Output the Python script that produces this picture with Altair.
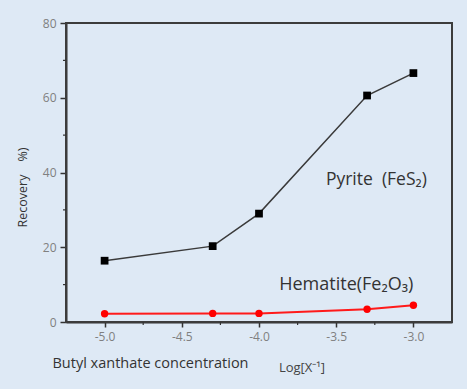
import altair as alt
import pandas as pd

log_x = [-5.0, -4.3, -4.0, -3.3, -3.0]
pyrite = [16.4, 20.3, 29.0, 60.6, 66.6]
hematite = [2.2, 2.3, 2.3, 3.4, 4.5]

x_major = [-5.0, -4.5, -4.0, -3.5, -3.0]
x_minor = [-4.75, -4.25, -3.75, -3.25]
y_major = [0, 20, 40, 60, 80]
y_minor = [10, 30, 50, 70]

NB = "\u00a0"
labels = ["Pyrite" + NB + NB + "(FeS\u2082)", "Hematite(Fe\u2082O\u2083)"]
label_x = [-3.24, -3.435]
label_y = [38.0, 9.9]
label_size = [17.5, 18]

BG = "#dee9f5"

df = pd.DataFrame({"x": log_x, "pyrite": pyrite, "hematite": hematite})
lab = pd.DataFrame({"t": labels, "x": label_x, "y": label_y, "s": label_size})
xm = pd.DataFrame({"x": x_minor})
ym = pd.DataFrame({"y": y_minor})

xs = alt.Scale(domain=[-5.25, -2.75], nice=False, zero=False)
ys = alt.Scale(domain=[0, 80], nice=False)

xaxis = alt.Axis(values=x_major, labelExpr="replace(format(datum.value, '.1f'), '\u2212', '-')",
                 grid=False, tickSize=5, tickWidth=1.5,
                 tickColor="#333", domainColor="#333", domainWidth=2,
                 labelColor="#808080", labelFontSize=12, labelFont="Open Sans", labelPadding=4,
                 title="Butyl xanthate concentration", titleFont="Open Sans",
                 titleFontSize=14.5, titleFontWeight="normal", titleColor="#333",
                 titleX=84, titleY=41, titleAnchor="middle", titleBaseline="middle")
yaxis = alt.Axis(values=y_major, format="d", grid=False, tickSize=6, tickWidth=1.5,
                 tickColor="#333", domainColor="#333", domainWidth=2,
                 labelColor="#808080", labelFontSize=12, labelFont="Open Sans", labelPadding=4,
                 title="Recovery" + NB * 4 + "%)", titleFont="Open Sans", titleFontSize=12.5,
                 titleFontWeight="normal", titleColor="#333",
                 titleX=-44, titleY=164, titleAnchor="middle", titleBaseline="middle",
                 titleAngle=270)

base = alt.Chart(df)

frame = alt.Chart(pd.DataFrame({"k": [0]})).mark_rect(
    fill="transparent", stroke="#3c3c3c", strokeWidth=2
).encode(x=alt.value(0), x2=alt.value(386), y=alt.value(0), y2=alt.value(299))

pyr_line = base.mark_line(color="#3a3a3a", strokeWidth=1.5).encode(
    x=alt.X("x:Q", scale=xs, axis=xaxis),
    y=alt.Y("pyrite:Q", scale=ys, axis=yaxis),
)
pyr_pts = base.mark_point(shape="square", filled=True, size=60, color="#000", opacity=1).encode(
    x=alt.X("x:Q", scale=xs), y=alt.Y("pyrite:Q", scale=ys)
)
hem_line = base.mark_line(color="#ff1a1a", strokeWidth=2).encode(
    x=alt.X("x:Q", scale=xs), y=alt.Y("hematite:Q", scale=ys)
)
hem_pts = base.mark_point(shape="circle", filled=True, size=55, color="#ff0000", opacity=1).encode(
    x=alt.X("x:Q", scale=xs), y=alt.Y("hematite:Q", scale=ys)
)

texts = alt.Chart(lab).mark_text(font="Open Sans", color="#333").encode(
    x=alt.X("x:Q", scale=xs), y=alt.Y("y:Q", scale=ys), text="t:N",
    size=alt.Size("s:Q", scale=None, legend=None),
)

xminor = alt.Chart(xm).mark_rule(color="#333", strokeWidth=1.2).encode(
    x=alt.X("x:Q", scale=xs), y=alt.value(299), y2=alt.value(302)
)
yminor = alt.Chart(ym).mark_rule(color="#333", strokeWidth=1.2).encode(
    y=alt.Y("y:Q", scale=ys), x=alt.value(0), x2=alt.value(-3)
)

logtxt = alt.Chart(pd.DataFrame({"t": ["Log[X\u207b\u00b9]"]})).mark_text(
    font="Open Sans", fontSize=13, color="#444"
).encode(x=alt.value(236), y=alt.value(345), text="t:N")

chart = alt.layer(frame, pyr_line, hem_line, pyr_pts, hem_pts, texts,
                  xminor, yminor, logtxt).properties(
    width=386, height=299, autosize="none",
    padding={"left": 66, "top": 23, "right": 15, "bottom": 67},
    background=BG,
).configure_view(strokeWidth=0)

chart.save("out.html", embed_options={"renderer": "svg", "actions": False})
